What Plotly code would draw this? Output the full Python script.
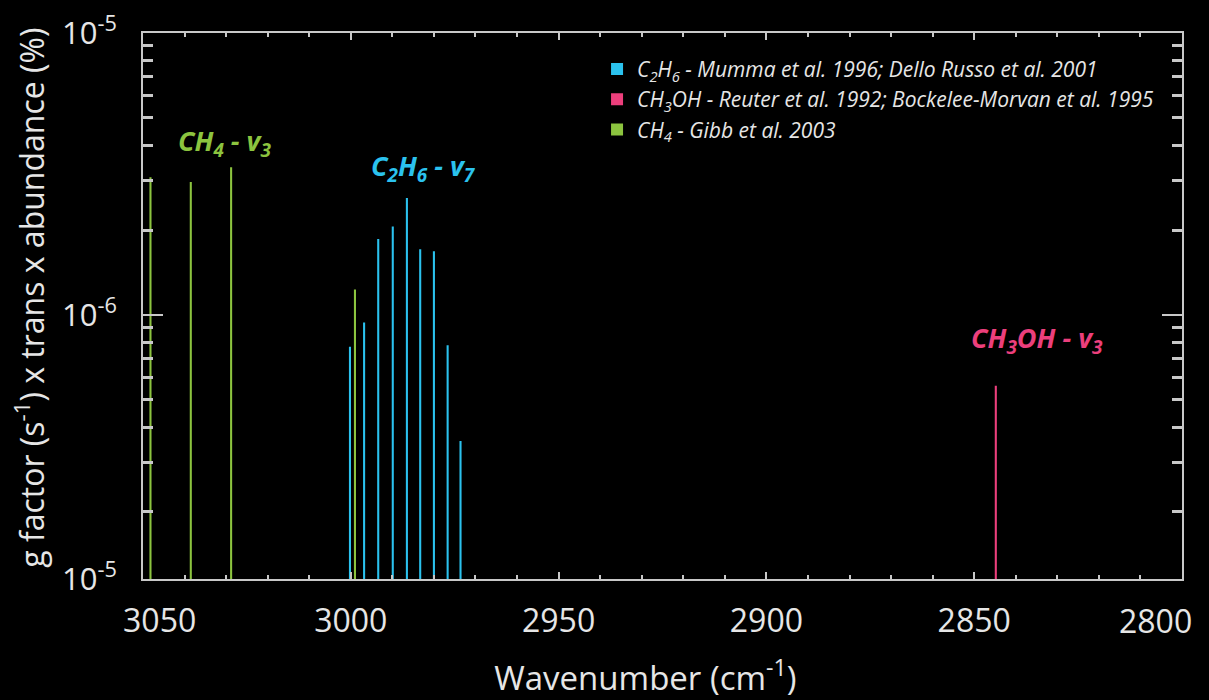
import math
import plotly.graph_objects as go

# ---- data ----
c2h6_wn = [3000.2, 2996.8, 2993.4, 2989.9, 2986.5, 2983.3, 2980.0, 2976.7, 2973.6]
c2h6_val = [7.7e-7, 9.4e-7, 1.86e-6, 2.06e-6, 2.60e-6, 1.71e-6, 1.68e-6, 7.8e-7, 3.57e-7]

ch3oh_wn = [2844.8]
ch3oh_val = [5.6e-7]

ch4_wn = [3048.2, 3038.5, 3028.8, 2999.0]
ch4_val = [3.08e-6, 2.96e-6, 3.34e-6, 1.23e-6]

y_bottom = 1.156e-7
y_tickvals = [y_bottom, 1e-6, 1e-5]
y_ticktext = ["10<sup>-5</sup>", "10<sup>-6</sup>", "10<sup>-5</sup>"]
x_tickvals = [3050, 3000, 2950, 2900, 2850, 2800]
x_ticktext = ["&nbsp;&nbsp;&nbsp;&nbsp;3050", "3000", "2950", "2900", "2850", ""]
x_edge_label = "2800"

names = [
    "C<sub>2</sub>H<sub>6</sub> - Mumma et al. 1996; Dello Russo et al. 2001",
    "CH<sub>3</sub>OH - Reuter et al. 1992; Bockelee-Morvan et al. 1995",
    "CH<sub>4</sub> - Gibb et al. 2003",
]
blue, pink, green = "#2BC2EE", "#EC3F7C", "#8CC43F"

FONT = "Open Sans"
TXT = "#E6E6E6"
AX = "#C8C8C8"

fig = go.Figure()
for wn, val, nm, col in [(c2h6_wn, c2h6_val, names[0], blue),
                         (ch3oh_wn, ch3oh_val, names[1], pink),
                         (ch4_wn, ch4_val, names[2], green)]:
    fig.add_trace(go.Bar(x=wn, y=val, width=0.5, name=nm,
                         marker=dict(color=col, line=dict(width=0))))

minor_y = [k * 10 ** e for e in (-7, -6) for k in range(2, 10) if k * 10 ** e > y_bottom]

fig.update_layout(
    width=1209, height=700,
    paper_bgcolor="black", plot_bgcolor="black",
    margin=dict(l=143, r=27, t=33, b=121, autoexpand=False),
    barmode="overlay",
    font=dict(family=FONT, color=TXT),
    showlegend=True,
    legend=dict(x=0.437, y=0.971, xanchor="left", yanchor="top",
                bgcolor="rgba(0,0,0,0)",
                font=dict(family=FONT, size=21, color=TXT, style="italic"),
                itemwidth=30, tracegroupgap=0),
    xaxis=dict(
        range=[3050, 2800], tickmode="array", tickvals=x_tickvals, ticktext=x_ticktext,
        ticks="inside", ticklen=7, tickwidth=2, tickcolor=AX, automargin=False,
        showline=True, linecolor=AX, linewidth=2, mirror="allticks",
        showgrid=False, zeroline=False, ticklabeloverflow="allow",
        ticklabelstandoff=13,
        tickfont=dict(size=32, color=TXT, family=FONT),
        minor=dict(dtick=10, ticks="inside", ticklen=4, tickwidth=2, tickcolor=AX, showgrid=False),
        title=dict(text="Wavenumber (cm<sup>-1</sup>)&nbsp;&nbsp;&nbsp;&nbsp;",
                   font=dict(size=33, color=TXT, family=FONT), standoff=34),
    ),
    yaxis=dict(
        type="log", range=[math.log10(y_bottom), -5],
        tickmode="array", tickvals=y_tickvals, ticktext=y_ticktext,
        ticks="inside", ticklen=20, tickwidth=1.5, tickcolor=AX, automargin=False,
        showline=True, linecolor=AX, linewidth=2, mirror="allticks",
        showgrid=False, zeroline=False, ticklabeloverflow="allow",
        tickfont=dict(size=31, color=TXT, family=FONT),
        ticklabelstandoff=18,
        minor=dict(tickmode="array", tickvals=minor_y, ticks="inside", ticklen=10, tickwidth=2.5,
                   tickcolor=AX, showgrid=False),
        title=dict(text="&nbsp;&nbsp;g factor (s<sup>-1</sup>) x trans x abundance (%)",
                   font=dict(size=32, color=TXT, family=FONT), standoff=8),
    ),
)

# right-most x tick label, pulled inside the page like in the reference
fig.add_annotation(text=x_edge_label, x=x_tickvals[-1], y=0, xref="x", yref="paper",
                   xanchor="right", yanchor="top", xshift=12, yshift=-18, showarrow=False,
                   font=dict(size=32, color=TXT, family=FONT))

ann = [
    ("<b><i>CH<sub>4</sub> - v<sub>3</sub></i></b>", 3030.5, 0.80, green),
    ("<b><i>C<sub>2</sub>H<sub>6</sub> - v<sub>7</sub></i></b>", 2982.4, 0.753, blue),
    ("<b><i>CH<sub>3</sub>OH - v<sub>3</sub></i></b>", 2834.9, 0.438, pink),
]
for t, x, y, c in ann:
    fig.add_annotation(text=t, x=x, y=y, xref="x", yref="paper", showarrow=False,
                       xanchor="center", yanchor="middle",
                       font=dict(size=27, color=c, family=FONT))

fig.write_html("out.html", config={"displayModeBar": False},
               post_script="document.body.style.margin='0';document.body.style.background='black';")
